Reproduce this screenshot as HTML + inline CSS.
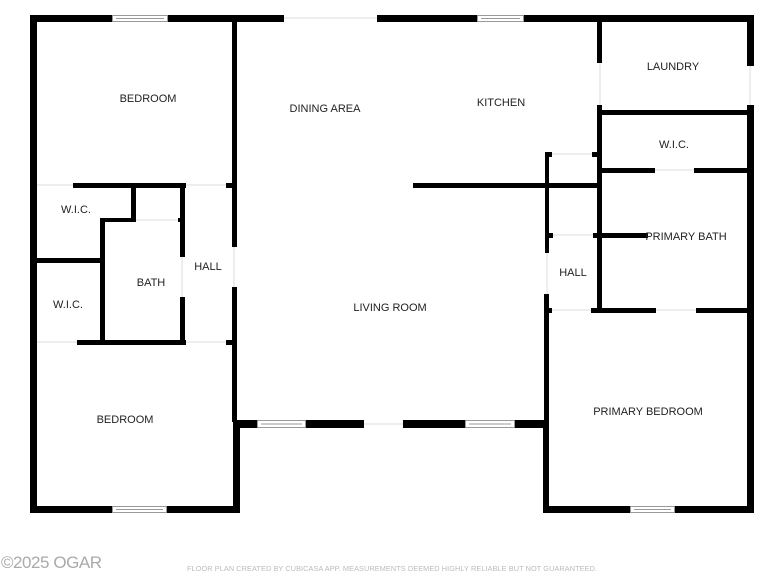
<!DOCTYPE html>
<html><head><meta charset="utf-8"><style>
html,body{margin:0;padding:0;background:#fff;}
svg{display:block}
text{font-family:"Liberation Sans",sans-serif;font-size:11px;fill:#222;}
</style></head><body>
<svg width="784" height="588" viewBox="0 0 784 588" xmlns="http://www.w3.org/2000/svg">
<g stroke="#eee" stroke-width="2">
<line x1="284" y1="18" x2="377" y2="18"/>
<line x1="37" y1="185" x2="73" y2="185"/>
<line x1="186" y1="185" x2="226" y2="185"/>
<line x1="37" y1="342" x2="77" y2="342"/>
<line x1="186" y1="342" x2="226" y2="342"/>
<line x1="364" y1="424" x2="403" y2="424"/>
<line x1="655" y1="170" x2="694" y2="170"/>
<line x1="656" y1="310" x2="696" y2="310"/>
<line x1="552" y1="310" x2="591" y2="310"/>
<line x1="553" y1="235" x2="593" y2="235"/>
<line x1="552" y1="154" x2="592" y2="154"/>
<line x1="750" y1="66" x2="750" y2="105"/>
<line x1="600" y1="63" x2="600" y2="105"/>
<line x1="234" y1="247" x2="234" y2="287"/>
<line x1="547" y1="253" x2="547" y2="294"/>
<line x1="182" y1="257" x2="182" y2="297"/>
<line x1="105" y1="220" x2="178" y2="220"/>
</g>
<g fill="#000">
<rect x="30" y="15" width="82" height="7"/>
<rect x="168" y="15" width="116" height="7"/>
<rect x="377" y="15" width="100" height="7"/>
<rect x="524" y="15" width="230" height="7"/>
<rect x="30" y="15" width="7" height="498"/>
<rect x="30" y="506" width="82" height="7"/>
<rect x="167" y="506" width="73" height="7"/>
<rect x="232" y="22" width="5" height="225"/>
<rect x="232" y="287" width="5" height="135"/>
<rect x="233" y="420" width="7" height="93"/>
<rect x="73" y="183" width="113" height="5"/>
<rect x="226" y="183" width="11" height="5"/>
<rect x="30" y="183" width="7" height="5"/>
<rect x="131" y="183" width="5" height="38"/>
<rect x="180" y="183" width="5" height="74"/>
<rect x="180" y="297" width="5" height="46"/>
<rect x="100" y="218" width="36" height="4"/>
<rect x="178" y="218" width="7" height="4"/>
<rect x="100" y="218" width="5" height="124"/>
<rect x="37" y="258" width="66" height="5"/>
<rect x="77" y="340" width="109" height="5"/>
<rect x="226" y="340" width="11" height="5"/>
<rect x="236" y="420" width="21" height="8"/>
<rect x="306" y="420" width="58" height="8"/>
<rect x="403" y="420" width="62" height="8"/>
<rect x="515" y="420" width="32" height="8"/>
<rect x="543" y="420" width="6" height="93"/>
<rect x="543" y="506" width="87" height="7"/>
<rect x="675" y="506" width="79" height="7"/>
<rect x="747" y="15" width="7" height="51"/>
<rect x="747" y="105" width="7" height="408"/>
<rect x="545" y="152" width="4" height="101"/>
<rect x="544" y="294" width="5" height="128"/>
<rect x="545" y="152" width="7" height="5"/>
<rect x="592" y="152" width="8" height="5"/>
<rect x="545" y="233" width="8" height="5"/>
<rect x="593" y="233" width="55" height="5"/>
<rect x="546" y="308" width="6" height="5"/>
<rect x="591" y="308" width="65" height="5"/>
<rect x="696" y="308" width="58" height="5"/>
<rect x="413" y="183" width="186" height="5"/>
<rect x="597" y="22" width="5" height="41"/>
<rect x="597" y="105" width="5" height="205"/>
<rect x="597" y="110" width="157" height="5"/>
<rect x="597" y="168" width="58" height="5"/>
<rect x="694" y="168" width="60" height="5"/>
</g>
<g fill="#fff" stroke="#999" stroke-width="1">
<rect x="112.5" y="15.5" width="55" height="6"/>
<rect x="477.5" y="15.5" width="46" height="6"/>
<rect x="112.5" y="506.5" width="54" height="6"/>
<rect x="257.5" y="420.5" width="48" height="7"/>
<rect x="465.5" y="420.5" width="49" height="7"/>
<rect x="630.5" y="506.5" width="44" height="6"/>
</g>
<g stroke="#999" stroke-width="1">
<line x1="116" y1="18.5" x2="164" y2="18.5"/>
<line x1="481" y1="18.5" x2="520" y2="18.5"/>
<line x1="116" y1="509.5" x2="163" y2="509.5"/>
<line x1="261" y1="424" x2="302" y2="424"/>
<line x1="469" y1="424" x2="511" y2="424"/>
<line x1="634" y1="509.5" x2="671" y2="509.5"/>
</g>
<text x="148" y="102" text-anchor="middle">BEDROOM</text>
<text x="325" y="112" text-anchor="middle">DINING AREA</text>
<text x="501" y="106" text-anchor="middle">KITCHEN</text>
<text x="673" y="70" text-anchor="middle">LAUNDRY</text>
<text x="674" y="148" text-anchor="middle">W.I.C.</text>
<text x="686" y="240" text-anchor="middle">PRIMARY BATH</text>
<text x="76" y="213" text-anchor="middle">W.I.C.</text>
<text x="68" y="308" text-anchor="middle">W.I.C.</text>
<text x="151" y="286" text-anchor="middle">BATH</text>
<text x="208" y="270" text-anchor="middle">HALL</text>
<text x="573" y="276" text-anchor="middle">HALL</text>
<text x="390" y="311" text-anchor="middle">LIVING ROOM</text>
<text x="125" y="423" text-anchor="middle">BEDROOM</text>
<text x="648" y="415" text-anchor="middle">PRIMARY BEDROOM</text>
<text x="1" y="568" textLength="101" style="font-size:17px;fill:#aaa;">©2025 OGAR</text>
<text x="187" y="571" textLength="410" style="font-size:7.3px;fill:#bbb;">FLOOR PLAN CREATED BY CUBICASA APP. MEASUREMENTS DEEMED HIGHLY RELIABLE BUT NOT GUARANTEED.</text>
</svg>
</body></html>
